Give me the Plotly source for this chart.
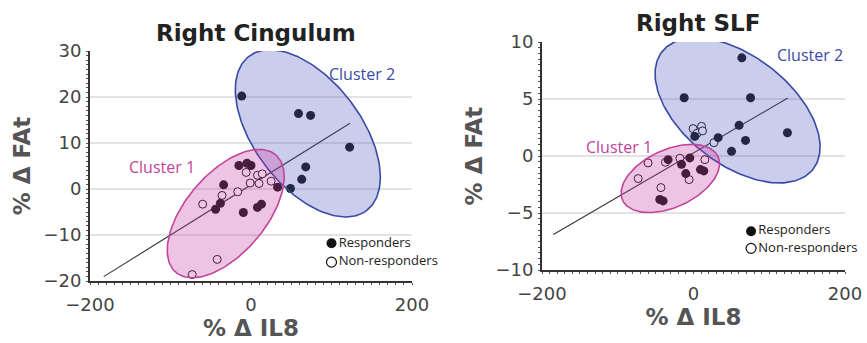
import numpy as np
import plotly.graph_objects as go

# ---------------- data: Right Cingulum ----------------
cing_resp_x = [-11.5, 59, 74, 122.5, 68, 63, 49, -15, -5, 0, 33, -34, -38, -44, -9.5, 8, 13]
cing_resp_y = [20.2, 16.4, 16.0, 9.1, 4.8, 2.1, 0.1, 5.1, 5.6, 5.1, 0.4, 0.9, -3.1, -4.4, -5.1, -4.0, -3.3]
cing_non_x = [-6, 8, 14, -1, 10, 25, -16.5, -36, -60, -42, -73]
cing_non_y = [3.6, 3.0, 3.3, 1.3, 1.2, 1.7, -0.6, -1.4, -3.3, -15.3, -18.6]
cing_fit = dict(slope=0.109, intercept=0.9, x_range=[-183, 123])
# ellipse: center, conjugate semi-axis vectors (data units)
cing_ell1 = dict(c=(-31.4, -5.34), u=(62.1, 12.76), v=(-37.7, 5.65))
cing_ell2 = dict(c=(70.6, 12.09), u=(73.2, -16.74), v=(52.5, 7.07))

# ---------------- data: Right SLF ----------------
slf_resp_x = [63.8, -12.3, 75.3, 60.2, 124, 32.5, 1.7, 68.7, 50.2,
              -33.5, -4.9, -15.8, -10.2, 9.2, 13.6, -44.5, -40.1]
slf_resp_y = [8.61, 5.11, 5.11, 2.69, 2.04, 1.61, 1.72, 1.37, 0.41,
              -0.32, -0.17, -0.73, -1.54, -1.19, -1.31, -3.82, -3.94]
slf_non_x = [-0.5, 10.6, 4.8, 11.9, 27, -60, -73, -43, -37, -18, -5.8, 15]
slf_non_y = [2.4, 2.6, 2.0, 2.2, 1.17, -0.61, -1.98, -2.77, -0.55, -0.2, -2.07, -0.32]
slf_fit = dict(slope=0.0387, intercept=0.27, x_range=[-185, 124.5])
slf_ell1 = dict(c=(-30.6, -1.97), u=(63.0, 1.914), v=(-15.9, 2.30))
slf_ell2 = dict(c=(58.2, 4.0), u=(99.7, -5.15), v=(43.9, 3.74))

titles = ["Right Cingulum", "Right SLF"]
x_title = "% Δ IL8"
y_title = "% Δ FAt"
legend_labels = ["Responders", "Non-responders"]
cluster_labels = ["Cluster 1", "Cluster 2"]

PINK_LINE = "#c2449a"
PINK_FILL = "rgba(200,60,170,0.30)"
BLUE_LINE = "#3a4aa5"
BLUE_FILL = "rgba(80,90,190,0.30)"
TXT = "#444444"
FONT = "Open Sans"
HFONT = "DejaVu Sans"

fig = go.Figure()


def ellipse(spec):
    t = np.linspace(0, 2 * np.pi, 200)
    cx, cy = spec["c"]
    ux, uy = spec["u"]
    vx, vy = spec["v"]
    return cx + ux * np.cos(t) + vx * np.sin(t), cy + uy * np.cos(t) + vy * np.sin(t)


def add_panel(xa, ya, rx, ry, nx, ny, fit, e1, e2):
    fx = np.array(fit["x_range"])
    fig.add_trace(go.Scatter(x=fx, y=fit["slope"] * fx + fit["intercept"], mode="lines",
                             line=dict(color="#333333", width=1.1), xaxis=xa, yaxis=ya,
                             showlegend=False, hoverinfo="skip"))
    fig.add_trace(go.Scatter(x=nx, y=ny, mode="markers", xaxis=xa, yaxis=ya, showlegend=False,
                             marker=dict(symbol="circle", size=8, color="white",
                                         line=dict(color="#111111", width=1))))
    fig.add_trace(go.Scatter(x=rx, y=ry, mode="markers", xaxis=xa, yaxis=ya, showlegend=False,
                             marker=dict(symbol="circle", size=9, color="#111111",
                                         line=dict(color="#111111", width=0))))
    for spec, lc, fc in [(e2, BLUE_LINE, BLUE_FILL), (e1, PINK_LINE, PINK_FILL)]:
        ex, ey = ellipse(spec)
        fig.add_trace(go.Scatter(x=ex, y=ey, mode="lines", fill="toself", fillcolor=fc,
                                 line=dict(color=lc, width=1.6), xaxis=xa, yaxis=ya,
                                 showlegend=False, hoverinfo="skip"))


add_panel("x", "y", cing_resp_x, cing_resp_y, cing_non_x, cing_non_y, cing_fit, cing_ell1, cing_ell2)
add_panel("x2", "y2", slf_resp_x, slf_resp_y, slf_non_x, slf_non_y, slf_fit, slf_ell1, slf_ell2)

W, H = 867, 343


def xd(p0, p1):
    return [p0 / W, p1 / W]


def yd(top, bot):
    return [1 - bot / H, 1 - top / H]


axis_common = dict(showline=True, linecolor="#333333", linewidth=2, ticks="", automargin=False,
                   tickfont=dict(family=HFONT, size=18, color=TXT), zeroline=False,
                   title_font=dict(family=HFONT, size=23, color="#555555"))

fig.update_layout(
    width=W, height=H, margin=dict(l=0, r=0, t=0, b=0, autoexpand=False),
    paper_bgcolor="white", plot_bgcolor="white", showlegend=False,
    xaxis=dict(domain=xd(90, 412), range=[-200, 200], tickvals=[-200, 0, 200],
               ticktext=["−200", "0", "200"], showgrid=False, anchor="y", ticklabelstandoff=6,
               minor=dict(ticks="outside", dtick=10, ticklen=2, tickcolor="#555555"),
               title=dict(text="<b>" + x_title + "</b>", standoff=2), **axis_common),
    yaxis=dict(domain=yd(51, 281), range=[-20, 30], tickvals=[-20, -10, 0, 10, 20, 30],
               ticktext=["−20", "−10", "0", "10", "20", "30"], showgrid=True,
               gridcolor="#e3e3e3", gridwidth=1.5, anchor="x", ticklabelstandoff=3,
               minor=dict(ticks="outside", dtick=1, ticklen=2, tickcolor="#555555"),
               title=dict(text="<b>" + y_title + "</b>", standoff=6), **axis_common),
    xaxis2=dict(domain=xd(542, 845), range=[-200, 200], tickvals=[-200, 0, 200],
                ticktext=["−200", "0", "200"], showgrid=False, anchor="y2", ticklabelstandoff=6,
                minor=dict(ticks="outside", dtick=10, ticklen=2, tickcolor="#555555"),
                title=dict(text="<b>" + x_title + "</b>", standoff=2), **axis_common),
    yaxis2=dict(domain=yd(42, 270), range=[-10, 10], tickvals=[-10, -5, 0, 5, 10],
                ticktext=["−10", "−5", "0", "5", "10"], showgrid=True,
                gridcolor="#e3e3e3", gridwidth=1.5, anchor="x2", ticklabelstandoff=3,
                minor=dict(ticks="outside", dtick=0.5, ticklen=2, tickcolor="#555555"),
                title=dict(text="<b>" + y_title + "</b>", standoff=6), **axis_common),
)

ann = []
# titles
ann.append(dict(text="<b>" + titles[0] + "</b>", x=256 / W, y=1 - 33 / H, xref="paper", yref="paper",
                xanchor="center", yanchor="middle", showarrow=False,
                font=dict(family=HFONT, size=23, color="#222222")))
ann.append(dict(text="<b>" + titles[1] + "</b>", x=698 / W, y=1 - 23 / H, xref="paper", yref="paper",
                xanchor="center", yanchor="middle", showarrow=False,
                font=dict(family=HFONT, size=23, color="#222222")))
# cluster labels
for xa, ya, pos1, pos2 in [("x", "y", (-110, 4.7), (138, 24.9)),
                           ("x2", "y2", (-99, 0.76), (154, 8.82))]:
    ann.append(dict(text=cluster_labels[0], x=pos1[0], y=pos1[1], xref=xa, yref=ya, showarrow=False,
                    xanchor="center", yanchor="middle",
                    font=dict(family=FONT, size=16, color=PINK_LINE)))
    ann.append(dict(text=cluster_labels[1], x=pos2[0], y=pos2[1], xref=xa, yref=ya, showarrow=False,
                    xanchor="center", yanchor="middle",
                    font=dict(family=FONT, size=16, color=BLUE_LINE)))
fig.update_layout(annotations=ann)

# legends (marker + text) per panel
for xa, ya, lx, ly1, ly2 in [("x", "y", 100, -11.8, -15.9), ("x2", "y2", 76, -6.6, -8.1)]:
    fig.add_trace(go.Scatter(x=[lx], y=[ly1], mode="markers+text", text=[legend_labels[0]],
                             textposition="middle right", xaxis=xa, yaxis=ya, showlegend=False,
                             cliponaxis=False,
                             textfont=dict(family=FONT, size=13, color="#222222"),
                             marker=dict(size=10, color="#111111")))
    fig.add_trace(go.Scatter(x=[lx], y=[ly2], mode="markers+text", text=[legend_labels[1]],
                             textposition="middle right", xaxis=xa, yaxis=ya, showlegend=False,
                             cliponaxis=False,
                             textfont=dict(family=FONT, size=13, color="#222222"),
                             marker=dict(size=10, color="white", line=dict(color="#111111", width=1.2))))

fig.write_html("out.html")
